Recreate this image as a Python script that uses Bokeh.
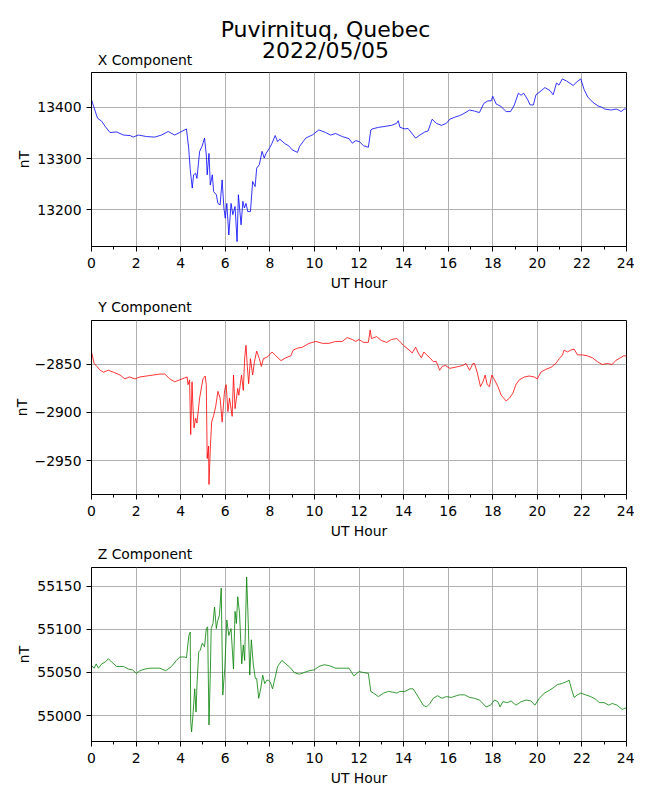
from bokeh.plotting import figure
from bokeh.layouts import column
from bokeh.models import Range1d, FixedTicker, Label, CustomJSTickFormatter
from bokeh.embed import file_html
from bokeh.resources import INLINE

# ---------------- data ----------------
main_title = ["Puvirnituq, Quebec", "2022/05/05"]
panel_titles = ["X Component", "Y Component", "Z Component"]
x_ticks = [0, 2, 4, 6, 8, 10, 12, 14, 16, 18, 20, 22, 24]
x_minor = [1, 3, 5, 7, 9, 11, 13, 15, 17, 19, 21, 23]

x_hour = [0.0, 0.12, 0.27, 0.46, 0.61, 0.83, 1.13, 1.43, 1.73, 1.87,
          2.1, 2.47, 2.84, 3.14, 3.44, 3.73, 3.96, 4.26, 4.36, 4.43,
          4.52, 4.58, 4.67, 4.73, 4.85, 4.96, 5.07, 5.15, 5.19, 5.27,
          5.33, 5.42, 5.48, 5.6, 5.67, 5.77, 5.86, 5.94, 6.0, 6.07,
          6.16, 6.26, 6.34, 6.44, 6.53, 6.59, 6.71, 6.79, 6.86, 6.93,
          7.01, 7.13, 7.23, 7.34, 7.41, 7.53, 7.65, 7.75, 7.83, 7.98,
          8.1, 8.24, 8.35, 8.45, 8.65, 8.87, 9.0, 9.24, 9.34, 9.61,
          9.9, 10.2, 10.5, 10.73, 10.95, 11.25, 11.55, 11.7, 11.85, 12.02,
          12.2, 12.42, 12.53, 12.6, 12.87, 13.17, 13.46, 13.69, 13.76, 13.84,
          14.06, 14.2, 14.36, 14.54, 14.73, 14.95, 15.1, 15.28, 15.47, 15.7,
          15.92, 16.07, 16.3, 16.51, 16.66, 16.96, 17.18, 17.4, 17.6, 17.78,
          17.93, 18.0, 18.15, 18.37, 18.6, 18.8, 18.97, 19.15, 19.27, 19.39,
          19.57, 19.68, 19.82, 19.94, 20.12, 20.34, 20.57, 20.71, 20.86, 20.97,
          21.12, 21.31, 21.61, 21.76, 21.95, 22.1, 22.27, 22.5, 22.72, 22.87,
          23.02, 23.32, 23.54, 23.69, 23.76, 23.9, 24.0]
x_nt = [13415, 13399, 13379, 13373, 13363, 13351, 13352, 13346, 13345, 13342,
        13346, 13343, 13342, 13346, 13353, 13346, 13351, 13358, 13320, 13278,
        13242, 13268, 13271, 13261, 13314, 13324, 13340, 13307, 13268, 13310,
        13248, 13268, 13235, 13229, 13212, 13209, 13258, 13203, 13183, 13212,
        13150, 13212, 13190, 13206, 13137, 13229, 13170, 13216, 13203, 13212,
        13196, 13196, 13255, 13245, 13281, 13288, 13314, 13301, 13310, 13320,
        13330, 13345, 13333, 13338, 13330, 13324, 13317, 13312, 13324, 13340,
        13346, 13356, 13351, 13346, 13349, 13343, 13339, 13330, 13335, 13333,
        13325, 13322, 13356, 13358, 13361, 13363, 13365, 13369, 13374, 13361,
        13358, 13359, 13350, 13340, 13346, 13352, 13354, 13377, 13369, 13365,
        13369, 13377, 13381, 13384, 13387, 13395, 13393, 13390, 13408, 13413,
        13413, 13422, 13407, 13402, 13392, 13392, 13405, 13428, 13424, 13428,
        13415, 13405, 13405, 13425, 13431, 13439, 13433, 13425, 13448, 13444,
        13456, 13452, 13443, 13450, 13456, 13435, 13420, 13410, 13403, 13401,
        13397, 13395, 13397, 13394, 13392, 13397, 13397]
x_yticks = [13200, 13300, 13400]

y_hour = [0.0, 0.12, 0.24, 0.39, 0.54, 0.76, 0.98, 1.28, 1.5, 1.7,
          1.95, 2.17, 2.47, 2.77, 3.07, 3.29, 3.51, 3.73, 3.96, 4.18,
          4.29, 4.33, 4.4, 4.45, 4.51, 4.55, 4.6, 4.67, 4.73, 4.85,
          5.0, 5.1, 5.15, 5.19, 5.25, 5.27, 5.33, 5.39, 5.48, 5.57,
          5.67, 5.77, 5.86, 5.97, 6.04, 6.12, 6.19, 6.31, 6.37, 6.44,
          6.56, 6.61, 6.73, 6.81, 6.87, 6.93, 6.99, 7.05, 7.13, 7.23,
          7.31, 7.41, 7.53, 7.62, 7.71, 7.9, 8.1, 8.27, 8.5, 8.72,
          8.94, 9.05, 9.24, 9.46, 9.76, 10.06, 10.36, 10.65, 10.95, 11.25,
          11.47, 11.7, 11.85, 12.0, 12.2, 12.42, 12.5, 12.56, 12.79, 13.0,
          13.24, 13.46, 13.69, 13.79, 13.99, 14.2, 14.39, 14.54, 14.68, 14.8,
          14.91, 15.03, 15.18, 15.33, 15.47, 15.62, 15.73, 15.88, 16.07, 16.3,
          16.47, 16.66, 16.8, 16.96, 17.11, 17.18, 17.3, 17.45, 17.56, 17.66,
          17.75, 17.85, 17.96, 18.08, 18.23, 18.38, 18.6, 18.75, 18.9, 19.04,
          19.19, 19.42, 19.64, 19.86, 20.0, 20.16, 20.38, 20.61, 20.83, 20.98,
          21.13, 21.2, 21.35, 21.5, 21.65, 21.8, 22.02, 22.24, 22.47, 22.69,
          22.91, 23.14, 23.36, 23.51, 23.73, 23.88, 24.0]
y_nt = [-2837, -2849, -2852, -2856, -2858, -2856, -2858, -2861, -2865, -2863,
        -2865, -2863, -2862, -2861, -2860, -2860, -2865, -2868, -2866, -2864,
        -2863, -2871, -2866, -2923, -2868, -2894, -2916, -2906, -2911, -2885,
        -2865, -2862, -2871, -2948, -2935, -2975, -2937, -2910, -2903, -2894,
        -2878, -2885, -2910, -2877, -2871, -2899, -2885, -2904, -2861, -2896,
        -2875, -2882, -2861, -2877, -2844, -2830, -2852, -2870, -2844, -2861,
        -2847, -2836, -2844, -2852, -2844, -2842, -2837, -2841, -2846, -2843,
        -2841, -2835, -2833, -2832, -2828, -2826, -2828, -2828, -2826, -2826,
        -2822, -2824, -2826, -2824, -2827, -2827, -2814, -2823, -2821, -2825,
        -2827, -2824, -2823, -2825, -2830, -2834, -2838, -2832, -2839, -2843,
        -2837, -2840, -2843, -2847, -2847, -2856, -2852, -2851, -2854, -2853,
        -2852, -2851, -2849, -2856, -2849, -2849, -2858, -2873, -2868, -2861,
        -2871, -2873, -2861, -2866, -2873, -2882, -2888, -2885, -2880, -2871,
        -2866, -2863, -2862, -2863, -2865, -2858, -2855, -2853, -2849, -2844,
        -2840, -2835, -2837, -2835, -2834, -2840, -2840, -2841, -2843, -2847,
        -2850, -2849, -2850, -2846, -2843, -2841, -2841]
y_yticks = [-2950, -2900, -2850]

z_hour = [0.0, 0.12, 0.21, 0.31, 0.46, 0.61, 0.76, 0.91, 1.13, 1.43,
          1.65, 1.85, 2.0, 2.17, 2.4, 2.62, 2.84, 3.07, 3.33, 3.59,
          3.81, 3.96, 4.18, 4.26, 4.33, 4.37, 4.43, 4.45, 4.49, 4.55,
          4.63, 4.69, 4.73, 4.81, 4.88, 4.97, 5.07, 5.15, 5.21, 5.27,
          5.33, 5.37, 5.45, 5.52, 5.6, 5.65, 5.74, 5.82, 5.89, 5.98,
          6.07, 6.16, 6.26, 6.37, 6.44, 6.5, 6.56, 6.64, 6.74, 6.81,
          6.87, 6.96, 7.02, 7.1, 7.17, 7.26, 7.35, 7.41, 7.5, 7.59,
          7.68, 7.77, 7.86, 7.93, 8.02, 8.12, 8.21, 8.35, 8.54, 8.72,
          8.94, 9.09, 9.32, 9.54, 9.76, 9.99, 10.21, 10.43, 10.65, 10.95,
          11.25, 11.55, 11.77, 12.0, 12.2, 12.42, 12.53, 12.65, 12.87, 13.1,
          13.32, 13.54, 13.69, 13.84, 14.06, 14.28, 14.43, 14.65, 14.88, 15.03,
          15.18, 15.33, 15.52, 15.73, 15.92, 16.14, 16.37, 16.51, 16.74, 16.96,
          17.18, 17.4, 17.56, 17.7, 17.9, 18.08, 18.23, 18.33, 18.45, 18.67,
          18.82, 19.04, 19.27, 19.49, 19.71, 19.89, 20.09, 20.31, 20.53, 20.76,
          20.9, 21.08, 21.28, 21.43, 21.53, 21.65, 21.8, 21.95, 22.17, 22.39,
          22.62, 22.77, 22.99, 23.21, 23.36, 23.58, 23.81, 23.88, 24.0]
z_nt = [55058, 55055, 55060, 55055, 55060, 55062, 55066, 55062, 55057, 55057,
        55054, 55053, 55049, 55052, 55054, 55055, 55055, 55055, 55052, 55057,
        55064, 55068, 55068, 55067, 55084, 55093, 55097, 54993, 54981, 55000,
        55031, 55004, 55035, 55074, 55076, 55084, 55080, 55101, 55103, 54989,
        55049, 55101, 55107, 55126, 55101, 55109, 55117, 55148, 55024, 55055,
        55111, 55093, 55101, 55054, 55121, 55107, 55138, 55119, 55060, 55082,
        55064, 55161, 55117, 55047, 55088, 55059, 55043, 55043, 55020, 55031,
        55047, 55037, 55041, 55041, 55039, 55031, 55041, 55057, 55064, 55060,
        55055, 55050, 55048, 55050, 55052, 55053, 55057, 55059, 55058, 55055,
        55055, 55055, 55046, 55051, 55050, 55049, 55028, 55026, 55022, 55026,
        55028, 55027, 55026, 55028, 55028, 55031, 55031, 55022, 55012, 55010,
        55014, 55020, 55023, 55020, 55022, 55021, 55023, 55024, 55024, 55021,
        55020, 55018, 55014, 55010, 55012, 55018, 55016, 55010, 55016, 55015,
        55017, 55012, 55016, 55018, 55017, 55012, 55020, 55026, 55029, 55033,
        55036, 55037, 55039, 55041, 55031, 55021, 55024, 55026, 55024, 55022,
        55019, 55015, 55015, 55012, 55014, 55012, 55007, 55008, 55009]
z_yticks = [55000, 55050, 55100, 55150]

# ---------------- styling / layout ----------------
FONT = "DejaVu Sans"
FS = "13.9px"
W = 634
LEFT = 91
FRAME_W = 535
FRAME_H = 174
DY = 5  # empirical baseline correction for labels


def header(height, texts):
    h = figure(width=W, height=height, output_backend="svg", toolbar_location=None,
               x_range=Range1d(0, 1), y_range=Range1d(0, 1),
               x_axis_location=None, y_axis_location=None, min_border=0)
    h.outline_line_color = None
    h.background_fill_color = "white"
    h.border_fill_color = "white"
    h.grid.visible = False
    for txt, x, y, size in texts:
        # the header's frame is aligned with the panels' frames (left at LEFT)
        h.add_layout(Label(x=x - LEFT, y=y + DY, x_units="screen", y_units="screen",
                           text=txt, text_font=FONT, text_font_size=size,
                           text_color="black", text_align="center",
                           text_baseline="alphabetic"))
    return h


def panel(hours, vals, color, yticks, ylo, yhi, bottom):
    p = figure(frame_width=FRAME_W, frame_height=FRAME_H,
               output_backend="svg", toolbar_location=None,
               x_range=Range1d(0, 24), y_range=Range1d(ylo, yhi),
               min_border_left=LEFT, min_border_right=W - LEFT - FRAME_W,
               min_border_top=4, min_border_bottom=bottom)
    p.line(hours, vals, line_color=color, line_width=0.8)
    p.outline_line_color = "black"
    p.outline_line_width = 1
    p.background_fill_color = "white"
    p.border_fill_color = "white"

    p.xaxis.ticker = FixedTicker(ticks=x_ticks, minor_ticks=x_minor)
    p.yaxis.ticker = FixedTicker(ticks=yticks)
    p.yaxis.formatter = CustomJSTickFormatter(
        code="return (tick < 0 ? '\u2212' : '') + Math.abs(tick).toFixed(0);")

    for ax in (p.xaxis, p.yaxis):
        ax.axis_line_color = "black"
        ax.axis_line_width = 1
        ax.major_tick_line_color = "black"
        ax.major_tick_line_width = 1
        ax.major_tick_in = 0
        ax.major_tick_out = 5
        ax.minor_tick_in = 0
        ax.minor_tick_out = 3
        ax.major_label_text_font = FONT
        ax.major_label_text_font_size = FS
        ax.major_label_text_color = "black"
        ax.axis_label_text_font = FONT
        ax.axis_label_text_font_size = FS
        ax.axis_label_text_font_style = "normal"
        ax.axis_label_text_color = "black"
    p.xaxis.minor_tick_line_color = "black"
    p.xaxis.minor_tick_line_width = 1
    p.yaxis.minor_tick_line_color = None
    p.xaxis.major_label_standoff = 6
    p.xaxis.axis_label_standoff = 4
    p.yaxis.major_label_standoff = 5
    p.yaxis.axis_label_standoff = 2
    p.xaxis.axis_label = "UT Hour"
    p.yaxis.axis_label = "nT"

    p.grid.grid_line_color = "#b0b0b0"
    p.grid.grid_line_width = 1
    return p


TCX = LEFT + 53.5  # panel titles centred at 10% of the axes width

h1 = header(68, [(main_title[0], 325, 34.5, "22px"),
                 (main_title[1], 325, 13.5, "22px"),
                 (panel_titles[0], TCX, 4, FS)])
p1 = panel(x_hour, x_nt, "#0000ff", x_yticks, 13127.5, 13468.6, 49)
h2 = header(21, [(panel_titles[1], TCX, 4.7, FS)])
p2 = panel(y_hour, y_nt, "#ff0000", y_yticks, -2985.4, -2804.2, 48)
h3 = header(21, [(panel_titles[2], TCX, 4.7, FS)])
p3 = panel(z_hour, z_nt, "#008000", z_yticks, 54969.8, 55172.0, 45)

layout = column(h1, p1, h2, p2, h3, p3, spacing=0)
open("out.html", "w").write(file_html(layout, INLINE))
